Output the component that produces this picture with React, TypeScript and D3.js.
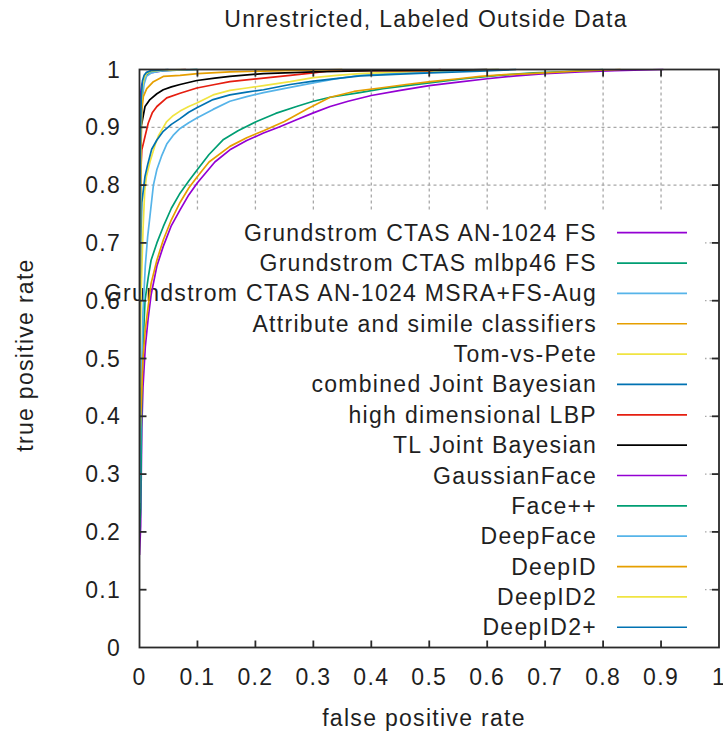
import React from 'react';
import * as d3 from 'd3';

type Pt = [number, number];

const chartTitle = 'Unrestricted, Labeled Outside Data';
const xAxisLabel = 'false positive rate';
const yAxisLabel = 'true positive rate';
const xTickValues = [0, 0.1, 0.2, 0.3, 0.4, 0.5, 0.6, 0.7, 0.8, 0.9, 1];
const yTickValues = [0, 0.1, 0.2, 0.3, 0.4, 0.5, 0.6, 0.7, 0.8, 0.9, 1];
const gridValues = [0.1, 0.2, 0.3, 0.4, 0.5, 0.6, 0.7, 0.8, 0.9];

// ROC points: [false positive rate, true positive rate]
const grundstromAn1024Fs: Pt[] = [
  [0, 0.16], [0.002, 0.21], [0.004, 0.38], [0.006, 0.45], [0.01, 0.52], [0.015, 0.57],
  [0.02, 0.61], [0.03, 0.66], [0.041, 0.694], [0.055, 0.73], [0.07, 0.757], [0.085, 0.783],
  [0.1, 0.804], [0.13, 0.84], [0.156, 0.861], [0.185, 0.877], [0.214, 0.89], [0.24, 0.9],
  [0.271, 0.913], [0.3, 0.925], [0.329, 0.936], [0.36, 0.945], [0.4, 0.955], [0.45, 0.964],
  [0.5, 0.972], [0.55, 0.978], [0.6, 0.984], [0.65, 0.989], [0.7, 0.993], [0.76, 0.996],
  [0.82, 0.998], [0.904, 1],
];
const grundstromMlbp46Fs: Pt[] = [
  [0, 0.2], [0.002, 0.24], [0.004, 0.45], [0.006, 0.52], [0.0095, 0.6], [0.015, 0.64],
  [0.02, 0.67], [0.03, 0.7], [0.041, 0.728], [0.055, 0.76], [0.07, 0.786], [0.085, 0.807],
  [0.1, 0.827], [0.12, 0.853], [0.145, 0.879], [0.17, 0.894], [0.202, 0.91], [0.235, 0.924],
  [0.271, 0.936], [0.3, 0.945], [0.329, 0.952], [0.38, 0.96], [0.42, 0.967], [0.5, 0.977],
  [0.56, 0.984], [0.62, 0.99], [0.68, 0.994], [0.75, 0.997], [0.8, 1],
];
const grundstromMsraAug: Pt[] = [
  [0, 0.24], [0.003, 0.45], [0.006, 0.58], [0.01, 0.66], [0.014, 0.71], [0.018, 0.746],
  [0.024, 0.8], [0.03, 0.827], [0.038, 0.85], [0.047, 0.871], [0.058, 0.886], [0.07, 0.898],
  [0.085, 0.908], [0.099, 0.916], [0.127, 0.931], [0.156, 0.945], [0.185, 0.953], [0.214, 0.96],
  [0.26, 0.969], [0.3, 0.977], [0.34, 0.984], [0.381, 0.99], [0.45, 0.994], [0.55, 0.998], [0.62, 1],
];
const attributeSimile: Pt[] = [
  [0, 0.35], [0.003, 0.42], [0.006, 0.5], [0.01, 0.55], [0.015, 0.59], [0.02, 0.63],
  [0.03, 0.67], [0.041, 0.705], [0.055, 0.74], [0.07, 0.77], [0.085, 0.795], [0.1, 0.815],
  [0.12, 0.84], [0.156, 0.867], [0.185, 0.882], [0.214, 0.894], [0.25, 0.91], [0.29, 0.932],
  [0.329, 0.952], [0.37, 0.962], [0.415, 0.968], [0.46, 0.974], [0.502, 0.979], [0.55, 0.984],
  [0.588, 0.988], [0.63, 0.991], [0.674, 0.993], [0.75, 0.997], [0.83, 1],
];
const tomVsPete: Pt[] = [
  [0, 0.45], [0.003, 0.62], [0.006, 0.72], [0.009, 0.79], [0.012, 0.815], [0.018, 0.84],
  [0.027, 0.87], [0.033, 0.886], [0.041, 0.9], [0.047, 0.91], [0.058, 0.92], [0.07, 0.928],
  [0.085, 0.936], [0.099, 0.942], [0.127, 0.956], [0.156, 0.964], [0.185, 0.968], [0.214, 0.972],
  [0.26, 0.979], [0.3, 0.986], [0.34, 0.99], [0.381, 0.993], [0.45, 0.996], [0.55, 0.999], [0.62, 1],
];
const combinedJointBayesian: Pt[] = [
  [0, 0.55], [0.002, 0.7], [0.004, 0.77], [0.0095, 0.815], [0.014, 0.835], [0.021, 0.862],
  [0.03, 0.878], [0.041, 0.893], [0.055, 0.905], [0.07, 0.915], [0.085, 0.926], [0.099, 0.934],
  [0.127, 0.948], [0.156, 0.956], [0.185, 0.961], [0.214, 0.965], [0.26, 0.974], [0.3, 0.98],
  [0.381, 0.989], [0.45, 0.992], [0.502, 0.994], [0.588, 0.997], [0.65, 1],
];
const highDimLbp: Pt[] = [
  [0, 0.76], [0.002, 0.8], [0.003, 0.84], [0.004, 0.861], [0.0095, 0.884], [0.015, 0.907],
  [0.022, 0.925], [0.03, 0.936], [0.047, 0.951], [0.07, 0.959], [0.099, 0.968], [0.13, 0.974],
  [0.156, 0.979], [0.214, 0.985], [0.26, 0.99], [0.3, 0.994], [0.33, 0.998], [0.5, 0.998], [0.52, 1],
];
const tlJointBayesian: Pt[] = [
  [0, 0.6], [0.001, 0.88], [0.002, 0.9], [0.004, 0.907], [0.0095, 0.936], [0.018, 0.948],
  [0.03, 0.958], [0.041, 0.965], [0.055, 0.97], [0.07, 0.974], [0.099, 0.981], [0.13, 0.985],
  [0.156, 0.988], [0.214, 0.993], [0.3, 0.996], [0.4, 0.998], [0.55, 0.999], [0.6, 1],
];
const gaussianFace: Pt[] = [
  [0, 0.5], [0.001, 0.85], [0.002, 0.959], [0.004, 0.974], [0.0095, 0.988], [0.018, 0.994],
  [0.041, 0.998], [0.08, 1],
];
const facePlusPlus: Pt[] = [
  [0, 0.22], [0.001, 0.7], [0.002, 0.85], [0.003, 0.93], [0.005, 0.97], [0.008, 0.985],
  [0.012, 0.992], [0.02, 0.996], [0.04, 0.998], [0.1, 1],
];
const deepFace: Pt[] = [
  [0, 0.25], [0.001, 0.65], [0.002, 0.8], [0.003, 0.9], [0.005, 0.95], [0.008, 0.975],
  [0.012, 0.988], [0.02, 0.994], [0.04, 0.998], [0.1, 1],
];
const deepId: Pt[] = [
  [0, 0.35], [0.001, 0.6], [0.002, 0.8], [0.003, 0.88], [0.004, 0.93], [0.0066, 0.953],
  [0.0125, 0.967], [0.024, 0.979], [0.041, 0.988], [0.07, 0.99], [0.1, 0.993], [0.156, 0.996],
  [0.25, 0.998], [0.35, 1],
];
const deepId2: Pt[] = [
  [0, 0.45], [0.001, 0.75], [0.002, 0.88], [0.003, 0.94], [0.005, 0.97], [0.008, 0.985],
  [0.012, 0.993], [0.02, 0.997], [0.04, 0.999], [0.08, 1],
];
const deepId2Plus: Pt[] = [
  [0, 0.3], [0, 0.6], [0.001, 0.8], [0.002, 0.9], [0.003, 0.95], [0.005, 0.98], [0.008, 0.99],
  [0.012, 0.995], [0.02, 0.998], [0.05, 1],
];

const seriesNames = [
  'Grundstrom CTAS AN-1024 FS',
  'Grundstrom CTAS mlbp46 FS',
  'Grundstrom CTAS AN-1024 MSRA+FS-Aug',
  'Attribute and simile classifiers',
  'Tom-vs-Pete',
  'combined Joint Bayesian',
  'high dimensional LBP',
  'TL Joint Bayesian',
  'GaussianFace',
  'Face++',
  'DeepFace',
  'DeepID',
  'DeepID2',
  'DeepID2+',
];
const seriesColors = [
  '#9400d3', '#009e73', '#56b4e9', '#e69f00', '#f0e442', '#0072b2', '#e51e10',
  '#000000', '#9400d3', '#009e73', '#56b4e9', '#e69f00', '#f0e442', '#0072b2',
];
const seriesValues = [
  grundstromAn1024Fs, grundstromMlbp46Fs, grundstromMsraAug, attributeSimile, tomVsPete,
  combinedJointBayesian, highDimLbp, tlJointBayesian, gaussianFace, facePlusPlus, deepFace,
  deepId, deepId2, deepId2Plus,
];

const W = 723;
const H = 736;
const left = 139.5;
const right = 719;
const top = 69.5;
const bottom = 647.5;
const FONT = '"Liberation Sans", Arial, sans-serif';
const FS = 23;
const LS = 1.3;

export default function App() {
  const x = d3.scaleLinear().domain([0, 1]).range([left, right]);
  const y = d3.scaleLinear().domain([0, 1]).range([bottom, top]);
  const line = d3.line<Pt>().x((d) => x(d[0])).y((d) => y(d[1]));

  const keyTop = 212;
  const keyRight = 705;
  const rowY0 = 232.7;
  const rowStep = 30.35;
  const textRight = 597;
  const sampleX0 = 617;
  const sampleX1 = 687;
  const tick = 7;

  return (
    <svg
      width={W}
      height={H}
      viewBox={`0 0 ${W} ${H}`}
      style={{ position: 'absolute', left: 0, top: 0, background: '#fff' }}
      fontFamily={FONT}
    >
      <rect x={0} y={0} width={W} height={H} fill="#fff" />
      <defs>
        <clipPath id="plot-clip">
          <rect x={left} y={top - 2} width={right - left} height={bottom - top + 2} />
        </clipPath>
      </defs>

      {/* dotted grid */}
      <g stroke="#a8a8a8" strokeWidth={1.3} strokeDasharray="3,3">
        {gridValues.map((v) => (
          <line key={`gx${v}`} x1={x(v)} x2={x(v)} y1={bottom} y2={top} />
        ))}
        {gridValues.map((v) => (
          <line key={`gy${v}`} x1={left} x2={right} y1={y(v)} y2={y(v)} />
        ))}
      </g>

      {/* opaque key box */}
      <rect x={left + 1} y={keyTop} width={keyRight - left - 1} height={bottom - keyTop} fill="#fff" />

      {/* key labels */}
      <g fontSize={FS} fill="#1f1f1f" letterSpacing={LS} textAnchor="end">
        {seriesNames.map((n, i) => (
          <text key={n} x={textRight} y={rowY0 + i * rowStep + 8}>
            {n}
          </text>
        ))}
      </g>

      {/* ROC curves */}
      <g clipPath="url(#plot-clip)" fill="none" strokeWidth={1.7} strokeLinejoin="round">
        {seriesValues.map((vals, i) => (
          <path key={seriesNames[i]} d={line(vals) ?? ''} stroke={seriesColors[i]} />
        ))}
      </g>

      {/* key samples */}
      <g strokeWidth={1.7}>
        {seriesNames.map((n, i) => (
          <line
            key={`s${n}`}
            x1={sampleX0}
            x2={sampleX1}
            y1={rowY0 + i * rowStep}
            y2={rowY0 + i * rowStep}
            stroke={seriesColors[i]}
          />
        ))}
      </g>

      {/* border and ticks */}
      <g stroke="#2a2a2a" strokeWidth={1.8} fill="none">
        <rect x={left} y={top} width={right - left} height={bottom - top} />
        {xTickValues.slice(1, -1).map((v) => (
          <g key={`tx${v}`}>
            <line x1={x(v)} x2={x(v)} y1={bottom} y2={bottom - tick} />
            <line x1={x(v)} x2={x(v)} y1={top} y2={top + tick} />
          </g>
        ))}
        {yTickValues.slice(1, -1).map((v) => (
          <g key={`ty${v}`}>
            <line x1={left} x2={left + tick} y1={y(v)} y2={y(v)} />
            <line x1={right} x2={right - tick} y1={y(v)} y2={y(v)} />
          </g>
        ))}
      </g>

      {/* tick labels */}
      <g fontSize={FS} fill="#1f1f1f" letterSpacing={LS}>
        {xTickValues.map((v) => (
          <text key={`lx${v}`} x={x(v)} y={bottom + 37} textAnchor="middle">
            {d3.format('')(v)}
          </text>
        ))}
        {yTickValues.map((v) => (
          <text key={`ly${v}`} x={121} y={y(v) + 8} textAnchor="end">
            {d3.format('')(v)}
          </text>
        ))}
      </g>

      {/* titles */}
      <g fontSize={FS} fill="#1f1f1f" letterSpacing={LS} textAnchor="middle">
        <text x={426} y={27}>{chartTitle}</text>
        <text x={424} y={726}>{xAxisLabel}</text>
        <text transform={`translate(33, 355) rotate(-90)`}>{yAxisLabel}</text>
      </g>
    </svg>
  );
}
